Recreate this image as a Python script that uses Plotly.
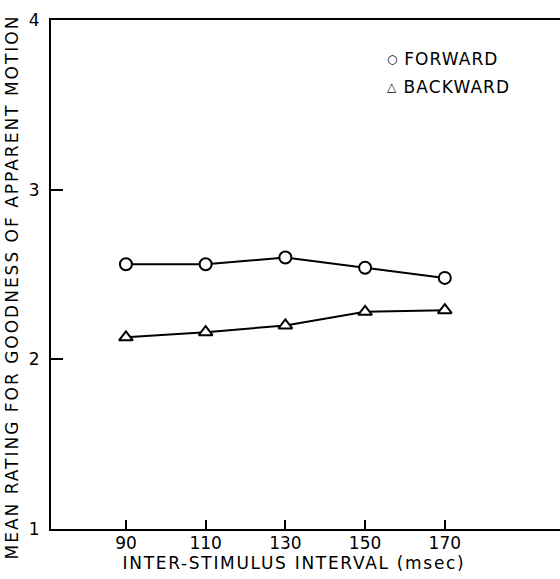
import plotly.graph_objects as go

isi = [90, 110, 130, 150, 170]
forward = [2.56, 2.56, 2.60, 2.54, 2.48]
backward = [2.13, 2.16, 2.20, 2.28, 2.29]
x_ticks = [90, 110, 130, 150, 170]
y_ticks = [1, 2, 3, 4]

FONT = "DejaVu Sans, sans-serif"
X_TITLE = "INTER-STIMULUS INTERVAL (msec)"
Y_TITLE = "MEAN RATING FOR GOODNESS OF APPARENT MOTION"

fig = go.Figure()
fig.add_trace(go.Scatter(
    x=isi, y=forward, mode="lines+markers", name="FORWARD",
    line=dict(color="black", width=2),
    marker=dict(symbol="circle", size=12, color="white", line=dict(color="black", width=2)),
    showlegend=False,
))
fig.add_trace(go.Scatter(
    x=isi, y=backward, mode="lines+markers", name="BACKWARD",
    line=dict(color="black", width=2),
    marker=dict(symbol="triangle-up", size=12, color="white", line=dict(color="black", width=2)),
    showlegend=False,
))

# legend drawn as text
for sym, label, yy in [("○", "FORWARD", 0.923), ("△", "BACKWARD", 0.868)]:
    fig.add_annotation(x=0.67, y=yy, xref="paper", yref="paper", xanchor="center", yanchor="middle",
                       text=sym, showarrow=False, font=dict(family=FONT, size=12, color="black"))
    fig.add_annotation(x=0.698, y=yy, xref="paper", yref="paper", xanchor="left", yanchor="middle",
                       text=label, showarrow=False, font=dict(family=FONT, size=17, color="black"))

# axis titles
fig.add_annotation(x=0.478, y=-0.066, xref="paper", yref="paper", xanchor="center", yanchor="middle",
                   text=X_TITLE, showarrow=False,
                   font=dict(family=FONT, size=17, color="black"))
fig.add_annotation(x=-0.077, y=0.476, xref="paper", yref="paper", xanchor="center", yanchor="middle",
                   text=Y_TITLE, showarrow=False, textangle=-90,
                   font=dict(family=FONT, size=17, color="black"))

fig.update_layout(
    width=560, height=579,
    margin=dict(l=51, r=0, t=20, b=50),
    plot_bgcolor="white", paper_bgcolor="white",
    font=dict(family=FONT, color="black", size=17),
    xaxis=dict(
        range=[71.2, 198.9], tickvals=x_ticks, ticktext=[str(v) for v in x_ticks],
        ticks="inside", ticklen=9, tickwidth=1.5, tickcolor="black",
        showline=True, linecolor="black", linewidth=2, mirror=True,
        showgrid=False, zeroline=False, automargin=False,
        tickfont=dict(size=17), ticklabelstandoff=-2,
    ),
    yaxis=dict(
        range=[1, 4], tickvals=y_ticks, ticktext=[str(v) for v in y_ticks],
        ticks="inside", ticklen=12, tickwidth=1.5, tickcolor="black",
        showline=True, linecolor="black", linewidth=2, mirror=False,
        showgrid=False, zeroline=False, automargin=False,
        tickfont=dict(size=17), ticklabelstandoff=6,
    ),
)

post = """
document.body.style.margin='0';
document.body.style.overflow='hidden';
var gd = document.getElementById('{plot_id}');
function fixSpacing(){
  document.querySelectorAll('.annotation-text').forEach(function(t){
    var s = t.textContent;
    if (s === '%s') t.style.letterSpacing = '2.0px';
    else if (s === '%s') t.style.letterSpacing = '1.7px';
    else if (s === 'FORWARD' || s === 'BACKWARD') t.style.letterSpacing = '1.1px';
  });
}
fixSpacing();
if (gd && gd.on) gd.on('plotly_afterplot', fixSpacing);
""" % (Y_TITLE, X_TITLE)

fig.write_html("out.html", config={"displayModeBar": False}, post_script=post)
